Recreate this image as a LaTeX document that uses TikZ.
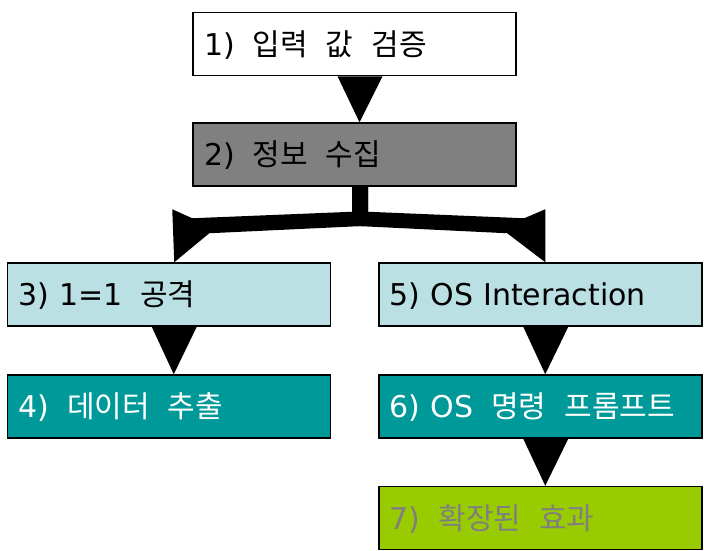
\documentclass[tikz,border=0pt]{standalone}
\usepackage{fontspec}
\setmainfont{DejaVu Sans}
\newfontfamily\kr{Noto Sans CJK KR}
\newcommand\krw{\kr\spaceskip=18pt\relax}
\usetikzlibrary{calc}

\definecolor{boxgray}{HTML}{808080}
\definecolor{boxblue}{HTML}{BBE0E3}
\definecolor{boxteal}{HTML}{009999}
\definecolor{boxlime}{HTML}{99CC00}

\tikzset{
  box/.style={draw, line width=1.5pt, minimum height=63pt, text width=301pt,
    inner xsep=11pt, text height=22pt, text depth=0pt, align=left},
  % plain downward wedge
  tri/.style={edge from parent path={($(\tikzparentnode.south)+(-17,0)$)
    -- ($(\tikzparentnode.south)+(28,0)$) -- ($(\tikzchildnode.north)+(5,0)$) -- cycle}},
  % the two halves of the fork under step 2
  leftarm/.style={edge from parent path={($(\tikzparentnode.south)+(-2.5,0)$)
    -- ($(\tikzparentnode.south)+(13.5,0)$) -- ($(\tikzparentnode.south)+(13.5,-39)$)
    -- ($(\tikzchildnode.north)+(40.5,29)$) -- ($(\tikzchildnode.north)+(5.5,0)$)
    -- ($(\tikzchildnode.north)+(3.5,53)$) -- ($(\tikzchildnode.north)+(23.5,44)$)
    -- ($(\tikzparentnode.south)+(-2.5,-25)$) -- cycle}},
  rightarm/.style={edge from parent path={($(\tikzparentnode.south)+(13.5,0)$)
    -- ($(\tikzparentnode.south)+(-2.5,0)$) -- ($(\tikzparentnode.south)+(-2.5,-39)$)
    -- ($(\tikzchildnode.north)+(-33,29)$) -- ($(\tikzchildnode.north)+(5,0)$)
    -- ($(\tikzchildnode.north)+(5,53)$) -- ($(\tikzchildnode.north)+(-16,44)$)
    -- ($(\tikzparentnode.south)+(13.5,-25)$) -- cycle}}
}

\begin{document}
\begin{tikzpicture}
[x=1pt, y=1pt, font=\fontsize{30}{36}\selectfont,
       grow=down, edge from parent/.style={fill=black, draw=none},
       level 1/.style={level distance=110.5pt, tri},
       level 2/.style={level distance=140pt, sibling distance=371.5pt},
       level 3/.style={level distance=112pt, tri},
       level 4/.style={level distance=111.5pt, tri}]
  \useasboundingbox (0,0) rectangle (704,-550);
  \node[box, fill=white] (check) at (354.5,-44) {1)\krw{} 입력 값 검증} % root
    child {node[box, fill=boxgray] (gather) {2)\krw{} 정보 수집}
      child[leftarm] {node[box, fill=boxblue] (attack) {3) 1=1\krw{} 공격}
        child {node[box, fill=boxteal, text=white] (extract) {4)\krw{} 데이터 추출}}}
      child[rightarm] {node[box, fill=boxblue] (osact) {5) OS Interaction}
        child {node[box, fill=boxteal, text=white] (oscmd) {6) OS\krw{} 명령 프롬프트}
          child {node[box, fill=boxlime, text=boxgray] (effect) {7)\krw{} 확장된 효과}}}}}; %
\end{tikzpicture}
\end{document}
